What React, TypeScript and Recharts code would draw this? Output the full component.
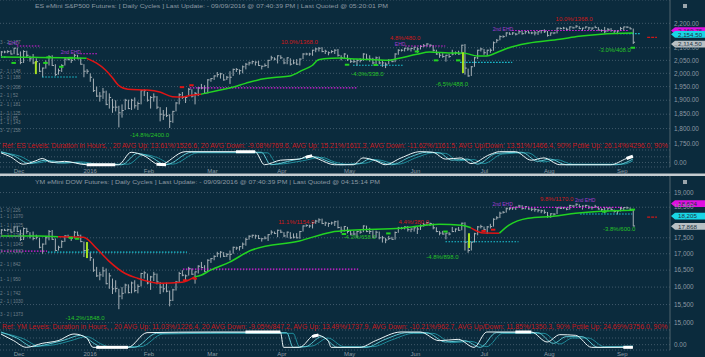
import React from 'react';
import {
  ComposedChart, Bar, Line, XAxis, YAxis, CartesianGrid, ReferenceLine, ReferenceDot,
} from 'recharts';

// bar index 0 = 24 Nov 2015 ... 199 = 09 Sep 2016 (trading days)
const monthTicks = [4, 26, 45, 65, 87, 108, 129, 151, 171, 194];
const monthNames = ['Dec', '2016', 'Feb', 'Mar', 'Apr', 'May', 'Jun', 'Jul', 'Aug', 'Sep'];

// ---- ES eMini S&P500 ----
const esHigh = [
  2087, 2088, 2090, 2090,
  2100, 2101, 2085, 2090, 2088, 2068, 2075, 2058, 2040, 2022, 2050, 2070, 2070, 2035, 2018, 2035, 2058, 2062, 2055, 2075, 2072, 2060,
  2035, 2016, 2000, 1980, 1950, 1930, 1945, 1935, 1925, 1905, 1900, 1880, 1885, 1905, 1902, 1905, 1910, 1895, 1937,
  1940, 1930, 1915, 1925, 1915, 1875, 1865, 1875, 1850, 1862, 1893, 1925, 1930, 1915, 1945, 1940, 1930, 1948, 1960, 1955,
  1978, 1982, 1992, 2005, 2002, 1997, 1990, 2008, 2018, 2020, 2015, 2030, 2040, 2045, 2048, 2046, 2048, 2030, 2038, 2052, 2068, 2062,
  2070, 2070, 2058, 2062, 2058, 2053, 2055, 2058, 2078, 2080, 2080, 2092, 2100, 2102, 2102, 2092, 2085, 2090, 2094, 2095, 2070,
  2078, 2072, 2055, 2055, 2055, 2058, 2078, 2076, 2070, 2060, 2065, 2065, 2050, 2042, 2055, 2055, 2078, 2094, 2094, 2100, 2102,
  2100, 2104, 2102, 2110, 2115, 2118, 2114, 2110, 2092, 2080, 2078, 2072, 2075, 2092, 2085, 2088, 2112, 2115, 2018, 2028, 2063, 2092,
  2100, 2095, 2092, 2097, 2125, 2135, 2150, 2150, 2163, 2163, 2163, 2160, 2168, 2168, 2168, 2168, 2165, 2168, 2167, 2172,
  2175, 2168, 2162, 2163, 2182, 2183, 2185, 2182, 2187, 2186, 2192, 2188, 2182, 2187, 2185, 2183, 2190, 2184, 2175, 2185, 2180, 2180, 2172,
  2172, 2185, 2186, 2188, 2185, 2178,
];
const esLow = [
  2067, 2078, 2078, 2073,
  2074, 2070, 2035, 2040, 2060, 2045, 2035, 2035, 2005, 1985, 2018, 2030, 2028, 1990, 1995, 2005, 2030, 2050, 2040, 2050, 2055, 2033,
  1985, 1998, 1968, 1930, 1912, 1895, 1905, 1882, 1870, 1855, 1860, 1804, 1838, 1865, 1868, 1865, 1870, 1865, 1885,
  1915, 1895, 1870, 1895, 1868, 1825, 1830, 1840, 1802, 1820, 1860, 1885, 1905, 1890, 1915, 1910, 1885, 1915, 1940, 1925,
  1925, 1968, 1975, 1985, 1980, 1972, 1975, 1960, 1990, 2005, 1995, 2000, 2015, 2030, 2035, 2030, 2028, 2015, 2025, 2020, 2050, 2050,
  2038, 2055, 2035, 2035, 2030, 2035, 2032, 2030, 2055, 2070, 2068, 2068, 2082, 2085, 2082, 2075, 2070, 2078, 2075, 2065, 2050,
  2055, 2048, 2040, 2040, 2030, 2042, 2048, 2052, 2045, 2035, 2035, 2035, 2025, 2020, 2035, 2043, 2043, 2072, 2085, 2085, 2088,
  2085, 2090, 2080, 2093, 2102, 2105, 2102, 2085, 2072, 2060, 2060, 2045, 2060, 2070, 2072, 2072, 2075, 1995, 1987, 1990, 2025, 2055,
  2085, 2072, 2068, 2080, 2088, 2120, 2130, 2140, 2145, 2152, 2152, 2150, 2155, 2153, 2155, 2158, 2155, 2150, 2152, 2158,
  2160, 2145, 2148, 2155, 2158, 2175, 2175, 2170, 2173, 2178, 2180, 2176, 2168, 2178, 2172, 2172, 2180, 2170, 2165, 2158, 2165, 2165, 2160,
  2155, 2168, 2172, 2180, 2175, 2115,
];
const esClose = [
  2083, 2083, 2085, 2075,
  2098, 2074, 2042, 2085, 2070, 2056, 2040, 2045, 2008, 2020, 2040, 2065, 2030, 1995, 2010, 2030, 2055, 2053, 2050, 2070, 2056, 2035,
  2008, 2008, 1985, 1935, 1915, 1915, 1930, 1885, 1910, 1875, 1875, 1855, 1863, 1900, 1870, 1900, 1880, 1888, 1935,
  1935, 1900, 1910, 1912, 1875, 1850, 1847, 1845, 1825, 1860, 1890, 1920, 1910, 1910, 1940, 1915, 1925, 1945, 1945, 1925,
  1975, 1980, 1990, 1995, 1998, 1975, 1985, 1985, 2015, 2015, 2010, 2025, 2035, 2040, 2045, 2043, 2030, 2027, 2030, 2050, 2060, 2055,
  2068, 2060, 2040, 2060, 2035, 2040, 2035, 2055, 2075, 2075, 2075, 2090, 2095, 2098, 2085, 2086, 2080, 2085, 2090, 2070, 2060,
  2075, 2055, 2045, 2045, 2050, 2050, 2075, 2055, 2055, 2040, 2060, 2040, 2040, 2035, 2050, 2045, 2075, 2090, 2090, 2098, 2095,
  2097, 2102, 2095, 2105, 2108, 2115, 2110, 2090, 2075, 2070, 2065, 2070, 2065, 2075, 2080, 2075, 2110, 2020, 1990, 2025, 2060, 2090,
  2095, 2080, 2090, 2090, 2120, 2130, 2145, 2145, 2160, 2155, 2160, 2155, 2165, 2157, 2165, 2160, 2160, 2160, 2165, 2170,
  2165, 2150, 2160, 2160, 2180, 2178, 2180, 2175, 2185, 2181, 2188, 2178, 2180, 2185, 2181, 2180, 2182, 2172, 2170, 2165, 2175, 2170, 2168,
  2168, 2178, 2185, 2184, 2177, 2122,
];
// moving average segments: [index, value]
const esMaGreen1 = [[0, 2063], [10, 2062], [20, 2060], [27, 2058]];
const esMaRed1 = [[27, 2058], [30, 2040], [33, 2012], [35, 1985], [37, 1955], [40, 1940], [46, 1937], [50, 1930], [54, 1913], [57, 1912], [60, 1918], [63, 1922]];
const esMaGreen2 = [[63, 1922], [68, 1935], [72, 1945], [77, 1962], [81, 1975], [86, 1984], [91, 1990], [95, 2012], [98, 2030], [100, 2052], [104, 2058], [107, 2059], [112, 2055], [118, 2052], [122, 2050], [125, 2057], [131, 2074], [135, 2083], [141, 2079], [146, 2078], [150, 2067], [153, 2067], [156, 2080], [160, 2100], [166, 2118], [176, 2134], [182, 2146], [189, 2155], [199, 2160]];
// levels: [from, to, price, kind]
const esLevels = [
  [0, 1.5, 2063, 'c'], [5, 12.6, 2107, 'm'], [25, 30.5, 2076, 'm'], [13, 24.3, 1986, 'c'],
  [59.5, 112, 1945, 'm'], [110.9, 126.6, 2031, 'c'], [127.3, 139.9, 2107, 'm'], [144.6, 161, 2042, 'c'],
  [161, 197.5, 2170, 'm'], [195, 201.3, 2157, 'c'], [203.5, 206.6, 2142, 'r'],
];
const esTags = [
  [94, 2124, '10.0%/1368.0', 'r'], [127.3, 2139, '4.8%/480.0', 'r'], [180.5, 2218, '10.0%/1368.0', 'r'],
  [115.4, 1997, '-4.0%/338.0', 'g'], [142, 1960, '-6.5%/488.0', 'g'], [193.3, 2091, '-3.0%/408.0', 'g'],
  [46.8, 1778, '-14.8%/2400.0', 'g'], [4, 2119, 'EHD', 'p'], [22, 2084, '2nd EHD', 'p'],
  [125.7, 2115, 'EHD', 'p'], [158.1, 2176, '2nd EHD', 'p'],
];
const esLimes = [[11, 1997, 2047], [145.5, 2001, 2082]];
const esLowMarks = [[4, 2040], [14, 2040], [15, 2062], [19, 2025], [22, 2060], [109, 2033], [118, 2032], [131, 2085], [137, 2050], [144, 2050], [199, 2100]];
const esHighMarks = [[57, 1948], [60, 1955]];
const esSide = [
  [2124, '3 - 2 | 177'], [2009, '2 - 1 | 148'], [1986, '3 - 1 | 188'], [1948, '2 - 1 | 208'], [1918, '2 - 1 | 52'],
  [1885, '2 - 1 | 181'], [1853, '1 - 1 | 125'], [1836, '1 - 0 | 85'], [1822, '1 - 1 | 143'], [1795, '3 - 2 | 158'],
];
const esBadges = [[2169.75, '2,169.75', '#e010e0'], [2154.5, '2,154.50', '#19d6e6'], [2114.5, '2,114.50', '#b9c0c4']];
const esTicks = [1750, 1800, 1850, 1900, 1950, 2000, 2050, 2100, 2200];

// ---- YM eMini DOW ----
const ymHigh = [
  17780, 17790, 17790, 17790,
  17870, 17880, 17760, 17830, 17820, 17680, 17700, 17600, 17500, 17320, 17560, 17750, 17750, 17480, 17250, 17420, 17580, 17600, 17540, 17720, 17700, 17600,
  17380, 17180, 17050, 16850, 16600, 16450, 16600, 16550, 16420, 16250, 16200, 15950, 16000, 16100, 16080, 16160, 16200, 16080, 16420,
  16470, 16400, 16330, 16450, 16400, 16150, 16100, 16130, 15900, 15950, 16180, 16450, 16500, 16370, 16600, 16550, 16460, 16650, 16750, 16650,
  16830, 16870, 16950, 17060, 17080, 17050, 17020, 17100, 17220, 17220, 17240, 17350, 17500, 17580, 17600, 17600, 17590, 17490, 17550, 17620, 17740, 17700,
  17760, 17760, 17680, 17700, 17680, 17640, 17650, 17720, 17900, 17930, 17920, 18010, 18080, 18130, 18120, 18020, 17990, 18020, 18050, 18060, 17860,
  17880, 17850, 17720, 17720, 17720, 17760, 17900, 17890, 17820, 17740, 17730, 17700, 17560, 17500, 17560, 17530, 17700, 17850, 17850, 17870, 17880,
  17800, 17840, 17850, 17930, 17980, 18010, 17990, 17960, 17840, 17720, 17720, 17660, 17680, 17850, 17800, 17850, 17990, 18000, 17350, 17380, 17660, 17880,
  17920, 17860, 17880, 17950, 18130, 18200, 18350, 18370, 18490, 18500, 18500, 18520, 18580, 18570, 18540, 18520, 18470, 18480, 18440, 18420,
  18420, 18340, 18300, 18300, 18500, 18520, 18510, 18490, 18580, 18570, 18630, 18600, 18560, 18580, 18560, 18530, 18580, 18530, 18460, 18510, 18490, 18500, 18420,
  18400, 18510, 18500, 18520, 18490, 18420,
];
const ymLow = [
  17600, 17720, 17700, 17670,
  17680, 17680, 17400, 17430, 17630, 17480, 17420, 17450, 17170, 17000, 17280, 17420, 17430, 17080, 17100, 17180, 17370, 17500, 17400, 17480, 17560, 17360,
  16900, 17000, 16780, 16450, 16300, 16200, 16300, 16080, 15950, 15800, 15850, 15370, 15650, 15820, 15820, 15820, 15850, 15820, 16020,
  16250, 16080, 15920, 16180, 16080, 15800, 15850, 15850, 15450, 15600, 15900, 16120, 16320, 16200, 16340, 16360, 16100, 16400, 16560, 16450,
  16460, 16720, 16800, 16900, 16880, 16900, 16900, 16800, 17000, 17120, 17100, 17150, 17250, 17440, 17500, 17470, 17460, 17380, 17450, 17400, 17600, 17620,
  17520, 17650, 17520, 17500, 17470, 17480, 17480, 17470, 17700, 17850, 17820, 17800, 17950, 17980, 17940, 17880, 17850, 17920, 17880, 17800, 17650,
  17700, 17640, 17580, 17580, 17500, 17630, 17680, 17680, 17620, 17500, 17500, 17450, 17350, 17330, 17430, 17440, 17440, 17660, 17770, 17770, 17700,
  17680, 17700, 17620, 17750, 17860, 17900, 17880, 17770, 17680, 17580, 17600, 17450, 17580, 17680, 17680, 17720, 17740, 17100, 17030, 17100, 17350, 17580,
  17800, 17680, 17620, 17800, 17860, 18090, 18140, 18290, 18320, 18400, 18410, 18410, 18480, 18420, 18430, 18420, 18370, 18350, 18330, 18300,
  18280, 18150, 18150, 18220, 18270, 18440, 18440, 18400, 18420, 18500, 18530, 18500, 18420, 18500, 18440, 18420, 18490, 18420, 18380, 18300, 18360, 18400, 18320,
  18260, 18360, 18380, 18450, 18400, 17868,
];
const ymClose = [
  17750, 17740, 17760, 17680,
  17850, 17700, 17450, 17800, 17700, 17560, 17480, 17520, 17200, 17300, 17500, 17700, 17450, 17100, 17200, 17380, 17560, 17520, 17480, 17680, 17580, 17380,
  17100, 17120, 16880, 16500, 16330, 16360, 16480, 16100, 16330, 15950, 15960, 15740, 15820, 16060, 15840, 16120, 15900, 16020, 16400,
  16420, 16120, 16300, 16380, 16150, 16000, 15950, 15880, 15620, 15920, 16150, 16400, 16350, 16330, 16550, 16380, 16450, 16620, 16580, 16450,
  16800, 16850, 16920, 17000, 17050, 16920, 16980, 16980, 17200, 17180, 17220, 17300, 17450, 17550, 17580, 17560, 17480, 17470, 17490, 17600, 17680, 17640,
  17740, 17680, 17560, 17680, 17500, 17520, 17500, 17700, 17880, 17900, 17880, 17990, 18040, 18080, 17960, 17980, 17960, 17980, 18020, 17830, 17740,
  17860, 17700, 17620, 17620, 17700, 17680, 17880, 17700, 17700, 17520, 17680, 17500, 17500, 17430, 17480, 17450, 17670, 17810, 17800, 17850, 17760,
  17780, 17820, 17780, 17880, 17920, 17990, 17960, 17820, 17700, 17650, 17620, 17650, 17620, 17700, 17780, 17740, 17970, 17360, 17100, 17360, 17630, 17850,
  17860, 17760, 17850, 17860, 18100, 18150, 18300, 18330, 18450, 18450, 18480, 18500, 18540, 18460, 18520, 18440, 18430, 18420, 18400, 18380,
  18330, 18200, 18280, 18270, 18480, 18460, 18480, 18430, 18560, 18540, 18600, 18520, 18540, 18560, 18500, 18490, 18510, 18440, 18420, 18370, 18470, 18420, 18360,
  18370, 18450, 18490, 18480, 18420, 17880,
];
const ymMaGreen1 = [[0, 17556], [12, 17560], [18, 17530]];
const ymMaRed1 = [[18, 17530], [26, 17520], [30, 17177], [34, 16775], [39, 16408], [43, 16260], [50, 16113], [57, 16142], [61, 16300]];
const ymMaGreen2 = [[61, 16300], [63, 16349], [66, 16500], [72, 16744], [79, 17115], [94, 17400], [104, 17680], [110, 17744], [126, 17808], [138, 17938], [145, 17900], [148, 17820]];
const ymMaRed2 = [[148, 17820], [152, 17650], [157, 17648]];
const ymMaGreen3 = [[157, 17648], [160, 17906], [166, 18134], [174, 18200], [181, 18300], [189, 18367], [199, 18400]];
const ymLevels = [
  [0, 14.5, 17084, 'm'], [14.8, 58.6, 17053, 'c'], [57.3, 112.5, 16534, 'm'], [140, 163, 17375, 'c'],
  [160.3, 195.6, 18497, 'm'], [182.4, 198.8, 18273, 'c'], [203.5, 206.6, 18170, 'r'],
];
const ymTags = [
  [175, 18778, '9.8%/1170.0', 'r'], [158, 18600, '2nd EHD', 'p'], [184, 18740, '2nd EHD', 'p'],
  [194.7, 17781, '-3.8%/600.0', 'g'], [26.5, 15125, '-14.2%/1848.0', 'g'], [139, 16900, '-4.8%/898.0', 'g'],
  [93, 18010, '11.1%/1154.0', 'r'], [130, 18000, '4.4%/380.0', 'r'], [113, 17520, '-4.3%/658.0', 'g'],
];
const ymLimes = [[27.1, 16867, 17365], [147.4, 17177, 17648]];
const ymLowMarks = [[22, 17500], [24, 17470], [108, 17620], [122, 17640], [140, 17700], [190, 18350], [199, 18420]];
const ymHighMarks = [[58, 16200], [61, 16250], [152, 17720], [155, 17760]];
const ymSide = [
  [18400, '1 - 0 | 226'], [18200, '1 - 1 | 1070'], [17900, '1 - 1 | 1025'], [17600, '2 - 1 | 1282'],
  [17300, '1 - 1 | 1045'], [17080, '3 - 2 | 1582'], [16700, '2 - 1 | 842'], [16250, '1 - 1 | 950'],
  [15820, '2 - 1 | 742'], [15600, '2 - 1 | 1030'], [15250, '3 - 2 | 1373'],
];
const ymBadges = [[18624, '18,624', '#e010e0'], [18205, '18,205', '#19d6e6'], [17868, '17,868', '#b9c0c4']];
const ymTicks = [15000, 15500, 16000, 16500, 17000, 17500, 18500, 19000];

// ---- cycle oscillators: [index, value] ----
const esOscA = [[0, 0.85], [3, 0.5], [7, -0.15], [11, 0.15], [13, 0.35], [16, 0.0], [20, 0.1], [27, -0.2], [37, -0.2], [41, 0.9], [45, 0.6], [50, -0.2], [58, 0.95], [80, 0.95], [83, -0.2], [88, 0.2], [94, 0.3], [97, 0.6], [100, 0.3], [105, -0.2], [111, -0.2], [114, 0.4], [118, 0.15], [121, -0.2], [126, 0.4], [132, 0.95], [136, 0.9], [140, 0.3], [145, 0.4], [148, -0.1], [154, 0.7], [157, 0.95], [162, 0.95], [167, 0.2], [171, 0.4], [176, -0.2], [192, -0.2], [197, 0.35], [199, 0.55]];
const esOscB = [[0, 0.95], [4, 0.6], [9, -0.1], [14, 0.2], [18, -0.05], [23, 0.0], [29, -0.2], [38, -0.2], [43, 0.8], [47, 0.5], [52, -0.2], [60, 0.9], [82, 0.9], [85, -0.2], [92, 0.2], [99, 0.5], [103, 0.1], [107, -0.2], [113, -0.1], [116, 0.3], [123, -0.2], [129, 0.5], [134, 0.9], [138, 0.85], [142, 0.2], [147, 0.3], [150, -0.15], [156, 0.8], [164, 0.9], [169, 0.1], [173, 0.3], [178, -0.2], [194, -0.2], [199, 0.3]];
const esOscC = [[0, 0.9], [6, 0.55], [11, -0.05], [16, 0.15], [20, -0.05], [25, 0.05], [31, -0.15], [40, -0.15], [45, 0.7], [49, 0.45], [54, -0.15], [62, 0.85], [84, 0.85], [87, -0.15], [95, 0.15], [101, 0.45], [105, 0.05], [109, -0.15], [115, -0.05], [118, 0.25], [125, -0.15], [131, 0.45], [136, 0.85], [140, 0.8], [144, 0.15], [149, 0.25], [152, -0.1], [158, 0.75], [166, 0.85], [171, 0.05], [175, 0.25], [180, -0.15], [196, -0.15], [199, 0.15]];
const ymOscA = [[0, 0.8], [4, 0.3], [8, -0.2], [13, 0.1], [18, 0.3], [23, 0.8], [27, 0.5], [29, -0.2], [40, -0.2], [46, 0.9], [66, 0.95], [88, 0.95], [89, -0.2], [94, -0.2], [99, 0.75], [103, 0.3], [104, -0.2], [113, -0.2], [118, 0.3], [126, 0.95], [132, 0.95], [138, 0.3], [144, 0.4], [149, -0.2], [153, 0.95], [167, 0.95], [172, 0.2], [176, 0.75], [181, 0.7], [186, -0.2], [199, -0.2]];
const ymOscB = [[0, 0.95], [5, 0.5], [10, -0.15], [15, 0.05], [20, 0.35], [25, 0.7], [30, 0.0], [32, -0.2], [42, -0.2], [49, 0.85], [68, 0.9], [90, 0.9], [92, -0.2], [96, -0.15], [101, 0.6], [106, -0.2], [115, -0.2], [121, 0.4], [128, 0.9], [134, 0.9], [140, 0.2], [146, 0.3], [151, -0.2], [156, 0.9], [169, 0.9], [174, 0.1], [178, 0.6], [183, 0.6], [188, -0.2], [199, -0.15]];
const ymOscC = [[0, 0.9], [7, 0.45], [12, -0.1], [17, 0.0], [22, 0.3], [27, 0.6], [32, 0.0], [34, -0.15], [44, -0.15], [51, 0.8], [70, 0.85], [92, 0.85], [94, -0.15], [98, -0.1], [103, 0.5], [108, -0.15], [117, -0.15], [123, 0.35], [130, 0.85], [136, 0.85], [142, 0.15], [148, 0.25], [153, -0.15], [158, 0.85], [171, 0.85], [176, 0.05], [180, 0.5], [185, 0.5], [190, -0.15], [199, -0.1]];
// thick white stretches of the cycle lines
const esOscHeavy = [[[27, -0.2], [36, -0.2]], [[49, -0.15], [52, -0.2]], [[74, 0.95], [80, 0.95]], [[96, 0.45], [98, 0.6]], [[197, 0.35], [199, 0.55]]];
const ymOscHeavy = [[[30, -0.2], [40, -0.2]], [[77, 0.95], [88, 0.95]], [[98, 0.6], [100, 0.72]], [[162, 0.95], [167, 0.95]], [[196, -0.2], [199, -0.2]]];

const BG = '#0b2b3d';
const GRID = '#40596a';
const AXIS = '#51656f';
const TXT = '#8b99a3';
const GREEN = '#22d322';
const RED = '#e01515';
const FONT = 'Liberation Sans, Arial, sans-serif';
const X_DOMAIN = [-0.3, 210.7];
const kindColor: Record<string, string> = { m: '#e01de0', c: '#1cc8d8', r: '#d01818', g: '#27c227', p: '#a43ad0' };

const toBars = (hi: number[], lo: number[], cl: number[]) =>
  hi.map((h, i) => ({ i, high: h, low: lo[i], close: cl[i] }));
const toPts = (pts: number[][]) => pts.map(([i, v]) => ({ i, v }));

const OhlcBar = (props: any) => {
  const { x, y, width, height, payload } = props;
  if (x == null || y == null) return null;
  const top = Math.min(y, y + height);
  const h = Math.max(Math.abs(height), 1);
  const cx = x + width / 2;
  const span = Math.log(payload.high / payload.low) || 1;
  const c = Math.min(Math.max(payload.close, payload.low), payload.high);
  const cy = top + h * (Math.log(payload.high / c) / span);
  return (
    <g stroke="#a6b0b6" strokeWidth={1}>
      <line x1={cx} x2={cx} y1={top} y2={top + h} />
      <line x1={cx} x2={cx + 1.8} y1={cy} y2={cy} />
    </g>
  );
};

const PriceTick = (props: any) => {
  const { x, y, payload, fmt } = props;
  return (
    <text x={x - 4} y={y + 2.2} fontSize={6.4} fill={TXT} fontFamily={FONT}>
      {fmt(payload.value)}
    </text>
  );
};

const MonthTick = (props: any) => {
  const { x, y, payload } = props;
  return (
    <text x={x} y={y + 5.5} fontSize={6} fill={TXT} fontFamily={FONT}>
      {monthNames[monthTicks.indexOf(payload.value)]}
    </text>
  );
};

const textShape = (text: string, color: string, size: number, anchor: string) => (p: any) => (
  <text x={p.cx} y={p.cy} dy={2} textAnchor={anchor} fontSize={size} fill={color} fontFamily={FONT}>{text}</text>
);

const badgeShape = (text: string, color: string) => (p: any) => (
  <g>
    <polygon points={`${p.cx + 1},${p.cy} ${p.cx + 5},${p.cy - 3.4} ${p.cx + 35},${p.cy - 3.4} ${p.cx + 35},${p.cy + 3.4} ${p.cx + 5},${p.cy + 3.4}`} fill={color} />
    <text x={p.cx + 8} y={p.cy + 2.3} fontSize={6.2} fill="#203040" fontFamily={FONT}>{text}</text>
  </g>
);

function PricePanel(props: any) {
  const { bars, ma, levels, tags, limes, lowMarks, highMarks, side, badges, domain, ticks, fmt, height } = props;
  return (
    <ComposedChart width={705} height={height} data={bars} margin={{ top: 0, right: 0, bottom: 0, left: 0 }}>
      <CartesianGrid vertical={false} stroke={GRID} strokeDasharray="1 2" />
      <XAxis dataKey="i" type="number" domain={X_DOMAIN} hide allowDataOverflow />
      <YAxis orientation="right" width={35} scale="log" domain={domain} ticks={ticks} interval={0} allowDataOverflow
        axisLine={{ stroke: AXIS }} tickLine={false} tick={<PriceTick fmt={fmt} />} />
      {levels.map(([a, b, p, k]: any, n: number) => (
        <ReferenceLine key={'l' + n} segment={[{ x: a, y: p }, { x: b, y: p }]} stroke={kindColor[k]}
          strokeWidth={1.2} strokeDasharray={k === 'r' ? '3 1' : '1.5 1.5'} ifOverflow="visible" />
      ))}
      <Bar dataKey={(d: any) => [d.low, d.high]} shape={<OhlcBar />} activeBar={false} barSize={2} isAnimationActive={false} />
      {ma.map(([c, pts]: any, n: number) => (
        <Line key={'m' + n} data={toPts(pts)} dataKey="v" type="monotone" stroke={c === 'g' ? GREEN : RED}
          strokeWidth={1.5} dot={false} activeDot={false} isAnimationActive={false} />
      ))}
      {limes.map(([i, lo, hi]: any, n: number) => (
        <ReferenceLine key={'y' + n} segment={[{ x: i, y: lo }, { x: i, y: hi }]} stroke="#a6e022" strokeWidth={2} ifOverflow="visible" />
      ))}
      {lowMarks.map(([i, p]: any, n: number) => (
        <ReferenceLine key={'g' + n} segment={[{ x: i - 0.7, y: p }, { x: i + 0.7, y: p }]} stroke={GREEN} strokeWidth={2} ifOverflow="visible" />
      ))}
      {highMarks.map(([i, p]: any, n: number) => (
        <ReferenceLine key={'h' + n} segment={[{ x: i - 0.7, y: p }, { x: i + 0.7, y: p }]} stroke={RED} strokeWidth={2} ifOverflow="visible" />
      ))}
      {tags.map(([i, p, t, k]: any, n: number) => (
        <ReferenceDot key={'t' + n} x={i} y={p} r={0} ifOverflow="visible"
          shape={textShape(t, kindColor[k], k === 'p' ? 5 : 6, 'middle')} />
      ))}
      {side.map(([p, t]: any, n: number) => (
        <ReferenceDot key={'s' + n} x={X_DOMAIN[0]} y={p} r={0} ifOverflow="visible"
          shape={textShape(t, '#6f7f89', 4.6, 'start')} />
      ))}
      {badges.map(([p, t, c]: any, n: number) => (
        <ReferenceDot key={'b' + n} x={X_DOMAIN[1]} y={p} r={0} ifOverflow="visible" shape={badgeShape(t, c)} />
      ))}
    </ComposedChart>
  );
}

function OscPanel({ lines, heavy, height }: any) {
  const colors = ['#1f8d9c', '#5cc6d2', '#eef7f8'];
  return (
    <ComposedChart width={705} height={height} margin={{ top: 0, right: 0, bottom: 0, left: 0 }}>
      <CartesianGrid vertical={false} stroke={GRID} strokeDasharray="1 2" />
      <XAxis dataKey="i" type="number" domain={X_DOMAIN} ticks={monthTicks} height={7} axisLine={false}
        tickLine={false} tickSize={0} tickMargin={0} tick={<MonthTick />} allowDataOverflow interval={0} />
      <YAxis orientation="right" width={35} domain={[-0.4, 1.1]} ticks={[0]} interval={0} axisLine={{ stroke: AXIS }}
        tickLine={false} tick={<PriceTick fmt={(v: number) => v.toFixed(2)} />} />
      <ReferenceLine y={0.5} stroke={GRID} strokeDasharray="1 2" />
      {lines.map((pts: any, n: number) => (
        <Line key={n} data={toPts(pts)} dataKey="v" type="monotone" stroke={colors[n]} strokeWidth={1}
          dot={false} activeDot={false} isAnimationActive={false} />
      ))}
      {heavy.map((pts: any, n: number) => (
        <Line key={'w' + n} data={toPts(pts)} dataKey="v" type="linear" stroke="#ffffff" strokeWidth={3}
          dot={false} activeDot={false} isAnimationActive={false} />
      ))}
    </ComposedChart>
  );
}

const esFmt = (v: number) => v.toLocaleString('en-US', { minimumFractionDigits: 2, maximumFractionDigits: 2 });
const ymFmt = (v: number) => v.toLocaleString('en-US');

export default function App() {
  const abs = (top: number): React.CSSProperties => ({ position: 'absolute', left: 0, top });
  return (
    <div style={{ position: 'fixed', left: 0, top: 0, width: 705, height: 357, background: BG, overflow: 'hidden' }}>
      <div style={abs(0)}>
        <PricePanel bars={toBars(esHigh, esLow, esClose)} height={150} domain={[1728, 2300]} ticks={esTicks} fmt={esFmt}
          ma={[['g', esMaGreen1], ['r', esMaRed1], ['g', esMaGreen2]]} levels={esLevels} tags={esTags} limes={esLimes}
          lowMarks={esLowMarks} highMarks={esHighMarks} side={esSide} badges={esBadges} />
      </div>
      <div style={abs(150)}>
        <OscPanel lines={[esOscC, esOscB, esOscA]} heavy={esOscHeavy} height={24} />
      </div>
      <div style={abs(176)}>
        <PricePanel bars={toBars(ymHigh, ymLow, ymClose)} height={154} domain={[14800, 19580]} ticks={ymTicks} fmt={ymFmt}
          ma={[['g', ymMaGreen1], ['r', ymMaRed1], ['g', ymMaGreen2], ['r', ymMaRed2], ['g', ymMaGreen3]]}
          levels={ymLevels} tags={ymTags} limes={ymLimes} lowMarks={ymLowMarks} highMarks={ymHighMarks}
          side={ymSide} badges={ymBadges} />
      </div>
      <div style={abs(330)}>
        <OscPanel lines={[ymOscC, ymOscB, ymOscA]} heavy={ymOscHeavy} height={27} />
      </div>
      <svg width={705} height={357} style={{ position: 'absolute', left: 0, top: 0, pointerEvents: 'none' }}>
        <text x={35} y={8} fontSize={6.2} fill={TXT} fontFamily={FONT} textLength={353} lengthAdjust="spacingAndGlyphs">
          ES eMini S&amp;P500 Futures: [ Daily Cycles ] Last Update:  - 09/09/2016 @ 07:40:39 PM | Last Quoted @ 05:20:01 PM
        </text>
        <text x={35} y={184} fontSize={6.2} fill={TXT} fontFamily={FONT} textLength={345} lengthAdjust="spacingAndGlyphs">
          YM eMini DOW Futures: [ Daily Cycles ] Last Update:  - 09/09/2016 @ 07:40:39 PM | Last Quoted @ 04:15:14 PM
        </text>
        <text x={2} y={148} fontSize={6.4} fill="#c81a1e" fontFamily={FONT} textLength={666} lengthAdjust="spacingAndGlyphs">
          Ref: ES Levels: Duration in Hours, , 20 AVG Up: 13.61%/1526.6, 20 AVG Down: -9.08%/769.6, AVG Up: 15.21%/1611.3, AVG Down: -11.62%/1161.5, AVG Up/Down: 13.51%/1466.4, 90% Pctile Up: 26.14%/4296.0, 90%
        </text>
        <svg x={0} y={320} width={670} height={12}>
          <text x={2} y={9} fontSize={6.4} fill="#c81a1e" fontFamily={FONT} textLength={672} lengthAdjust="spacingAndGlyphs">
            Ref: YM Levels: Duration in Hours, , 20 AVG Up: 11.03%/1226.4, 20 AVG Down: -9.05%/847.2, AVG Up: 13.49%/1737.9, AVG Down: -10.21%/962.7, AVG Up/Down: 11.85%/1350.3, 90% Pctile Up: 24.69%/3756.0, 90% P
          </text>
        </svg>
        <rect x={0} y={173.5} width={705} height={2.5} fill="#c5ccd0" />
        <rect x={683} y={4} width={4} height={4} fill="#9aa5ab" />
        <rect x={683} y={180} width={4} height={4} fill="#9aa5ab" />
      </svg>
    </div>
  );
}
